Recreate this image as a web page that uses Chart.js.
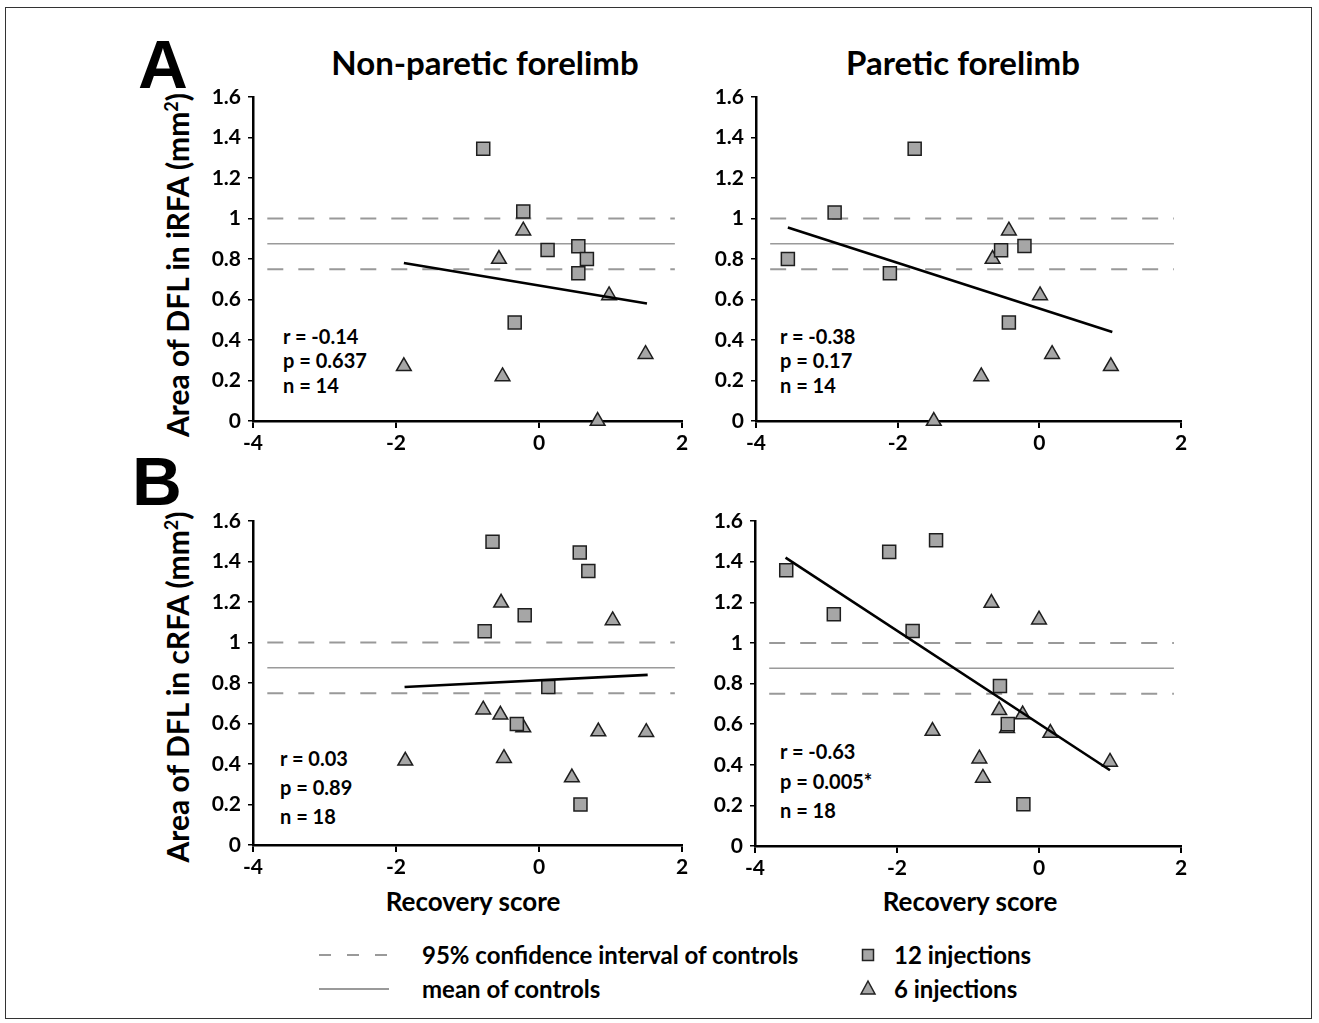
<!DOCTYPE html>
<html><head><meta charset="utf-8">
<script src="https://cdn.jsdelivr.net/npm/chart.js@4.4.1/dist/chart.umd.min.js"></script>
<style>
body{margin:0;background:#fff;}
#fig{position:relative;width:1319px;height:1023px;overflow:hidden;font-family:Lato,'Open Sans',sans-serif;color:#000;background:#fff;}
.abs{position:absolute;white-space:nowrap;line-height:1.1;}
canvas{position:absolute;}
.frame{position:absolute;left:5px;top:7px;width:1305px;height:1010px;border:1.5px solid #333;}
.letter{font-family:'Liberation Sans',Arial,sans-serif;font-weight:bold;font-size:69px;line-height:1;transform:translate(-50%,-50%);}
.title{font-weight:bold;font-size:33px;transform:translate(-50%,-50%);}
.ytitle{font-weight:bold;font-size:30px;transform:translate(-50%,-50%) rotate(-90deg);}
.stat{font-weight:bold;font-size:20px;transform:translateY(-50%);}
.xtitle{font-weight:bold;font-size:26px;transform:translate(-50%,-50%);}
.leg{font-weight:bold;font-size:24px;transform:translateY(-50%);}
sup{font-size:0.6em;vertical-align:0.6em;line-height:0;}
</style>
</head>
<body>
<div id="fig">
  <div class="frame"></div>
  <div class="abs letter" style="left:163px;top:64px;">A</div>
  <div class="abs letter" style="left:157px;top:481px;">B</div>
  <div class="abs title" style="left:485px;top:62px;">Non-paretic forelimb</div>
  <div class="abs title" style="left:963px;top:62px;">Paretic forelimb</div>
  <div class="abs ytitle" style="left:177px;top:265px;">Area of DFL in iRFA (mm<sup>2</sup>)</div>
  <div class="abs ytitle" style="left:177px;top:687px;">Area of DFL in cRFA (mm<sup>2</sup>)</div>
  <div class="abs xtitle" style="left:473px;top:901px;">Recovery score</div>
  <div class="abs xtitle" style="left:970px;top:901px;">Recovery score</div>

  <div class="abs stat" style="left:283px;top:336px;">r = -0.14</div>
  <div class="abs stat" style="left:283px;top:360px;">p = 0.637</div>
  <div class="abs stat" style="left:283px;top:385px;">n = 14</div>
  <div class="abs stat" style="left:780px;top:336px;">r = -0.38</div>
  <div class="abs stat" style="left:780px;top:360px;">p = 0.17</div>
  <div class="abs stat" style="left:780px;top:385px;">n = 14</div>
  <div class="abs stat" style="left:280px;top:758px;">r = 0.03</div>
  <div class="abs stat" style="left:280px;top:787px;">p = 0.89</div>
  <div class="abs stat" style="left:280px;top:816px;">n = 18</div>
  <div class="abs stat" style="left:780px;top:751px;">r = -0.63</div>
  <div class="abs stat" style="left:780px;top:781px;">p = 0.005*</div>
  <div class="abs stat" style="left:780px;top:810px;">n = 18</div>

  <svg class="abs" style="left:0;top:0;" width="1319" height="1023">
    <line x1="319" y1="955" x2="391" y2="955" stroke="#9a9a9a" stroke-width="2" stroke-dasharray="12 16"/>
    <line x1="319" y1="989" x2="389" y2="989" stroke="#9a9a9a" stroke-width="2"/>
    <rect x="862.5" y="949.5" width="11" height="11" fill="#a6a6a6" stroke="#222" stroke-width="1.5"/>
    <polygon points="868,981 875,994 861,994" fill="#a6a6a6" stroke="#222" stroke-width="1.5"/>
  </svg>
  <div class="abs leg" style="left:422px;top:955px;">95% confidence interval of controls</div>
  <div class="abs leg" style="left:422px;top:989px;">mean of controls</div>
  <div class="abs leg" style="left:894px;top:955px;">12 injections</div>
  <div class="abs leg" style="left:894px;top:989px;">6 injections</div>
</div>
<script>
// ---- tick labels ----
const xTickLabels = ['-4', '-2', '0', '2'];
const yTickLabels = ['0', '0.2', '0.4', '0.6', '0.8', '1', '1.2', '1.4', '1.6'];

// ---- control reference values ----
const ctrlMean = 0.875;
const ctrlCiLow = 0.75;
const ctrlCiHigh = 1.0;
const refLineX = [-3.8, 1.9];

// ---- A: iRFA, non-paretic forelimb ----
const aNonSqX = [-0.78, -0.22, 0.12, 0.55, 0.67, 0.55, -0.34];
const aNonSqY = [1.345, 1.035, 0.845, 0.863, 0.80, 0.73, 0.487];
const aNonTriX = [-0.22, -0.56, 0.98, -1.89, -0.51, 0.82, 1.49];
const aNonTriY = [0.94, 0.80, 0.62, 0.27, 0.22, 0.0, 0.33];
const aNonFitX = [-1.89, 1.51];
const aNonFitY = [0.78, 0.58];

// ---- A: iRFA, paretic forelimb ----
const aParSqX = [-3.55, -2.89, -1.76, -2.11, -0.54, -0.21, -0.43];
const aParSqY = [0.80, 1.03, 1.345, 0.73, 0.843, 0.864, 0.486];
const aParTriX = [-0.43, -0.66, 0.01, 0.18, 1.01, -0.82, -1.49];
const aParTriY = [0.94, 0.80, 0.62, 0.33, 0.27, 0.22, 0.0];
const aParFitX = [-3.55, 1.03];
const aParFitY = [0.955, 0.44];

// ---- B: cRFA, non-paretic forelimb ----
const bNonSqX = [-0.65, 0.57, 0.69, -0.20, -0.76, 0.13, -0.31, 0.58];
const bNonSqY = [1.498, 1.444, 1.353, 1.135, 1.056, 0.78, 0.597, 0.20];
const bNonTriX = [-0.53, 1.03, -0.78, -0.54, -0.22, 0.83, 1.50, -1.87, -0.49, 0.46];
const bNonTriY = [1.196, 1.109, 0.668, 0.643, 0.58, 0.56, 0.557, 0.416, 0.429, 0.333];
const bNonFitX = [-1.88, 1.52];
const bNonFitY = [0.78, 0.84];

// ---- B: cRFA, paretic forelimb ----
const bParSqX = [-3.56, -2.11, -1.45, -2.89, -1.78, -0.55, -0.44, -0.22];
const bParSqY = [1.357, 1.448, 1.505, 1.141, 1.059, 0.788, 0.60, 0.205];
const bParTriX = [-0.67, 0.0, -0.56, -0.23, 0.16, -1.50, -0.84, -0.79, 1.0, -0.45];
const bParTriY = [1.196, 1.114, 0.668, 0.647, 0.556, 0.566, 0.43, 0.335, 0.414, 0.58];
const bParFitX = [-3.57, 1.0];
const bParFitY = [1.42, 0.373];

const pts = (xs, ys) => xs.map((x, i) => ({ x: x, y: ys[i] }));

const panels = [
  { sqX: aNonSqX, sqY: aNonSqY, triX: aNonTriX, triY: aNonTriY, fitX: aNonFitX, fitY: aNonFitY,
    left: 150, top: 70, w: 550, h: 400, yW: 103, padR: 18, padT: 27, xH: 49 },
  { sqX: aParSqX, sqY: aParSqY, triX: aParTriX, triY: aParTriY, fitX: aParFitX, fitY: aParFitY,
    left: 700, top: 70, w: 550, h: 400, yW: 56, padR: 69, padT: 27, xH: 49 },
  { sqX: bNonSqX, sqY: bNonSqY, triX: bNonTriX, triY: bNonTriY, fitX: bNonFitX, fitY: bNonFitY,
    left: 150, top: 490, w: 550, h: 400, yW: 103, padR: 18, padT: 31, xH: 45 },
  { sqX: bParSqX, sqY: bParSqY, triX: bParTriX, triY: bParTriY, fitX: bParFitX, fitY: bParFitY,
    left: 700, top: 490, w: 550, h: 400, yW: 55, padR: 69, padT: 31, xH: 44 }
];

const tickFont = { family: 'Lato', weight: 'bold', size: 21 };
const fig = document.getElementById('fig');

panels.forEach(p => {
  const cv = document.createElement('canvas');
  cv.width = p.w; cv.height = p.h;
  cv.style.left = p.left + 'px'; cv.style.top = p.top + 'px';
  cv.style.width = p.w + 'px'; cv.style.height = p.h + 'px';
  fig.appendChild(cv);
  new Chart(cv, {
    type: 'scatter',
    data: {
      datasets: [
        { label: 'CI high', data: pts(refLineX, [ctrlCiHigh, ctrlCiHigh]), showLine: true,
          borderColor: '#999', borderWidth: 2, borderDash: [16, 15], pointRadius: 0, order: 6 },
        { label: 'CI low', data: pts(refLineX, [ctrlCiLow, ctrlCiLow]), showLine: true,
          borderColor: '#999', borderWidth: 2, borderDash: [16, 15], pointRadius: 0, order: 6 },
        { label: 'mean', data: pts(refLineX, [ctrlMean, ctrlMean]), showLine: true,
          borderColor: '#9a9a9a', borderWidth: 1.6, pointRadius: 0, order: 5 },
        { label: '6 injections', data: pts(p.triX, p.triY), pointStyle: 'triangle', pointRadius: 8.5,
          backgroundColor: '#a6a6a6', borderColor: '#1e1e1e', borderWidth: 1.5, clip: false, order: 3 },
        { label: '12 injections', data: pts(p.sqX, p.sqY), pointStyle: 'rect', pointRadius: 9.2,
          backgroundColor: '#a6a6a6', borderColor: '#1e1e1e', borderWidth: 1.5, clip: false, order: 2 },
        { label: 'fit', data: pts(p.fitX, p.fitY), showLine: true,
          borderColor: '#000', borderWidth: 2.6, pointRadius: 0, order: 1 }
      ]
    },
    options: {
      responsive: false, animation: false, events: [], devicePixelRatio: 1,
      layout: { padding: { top: p.padT, right: p.padR, left: 0, bottom: 0 } },
      plugins: { legend: { display: false }, tooltip: { enabled: false } },
      scales: {
        x: {
          type: 'linear', min: -4, max: 2,
          ticks: { stepSize: 2, color: '#000', font: tickFont, padding: 3,
                   callback: (v, i) => xTickLabels[i] },
          grid: { drawOnChartArea: false, drawTicks: true, tickLength: 7, color: '#000', lineWidth: 2 },
          border: { display: true, color: '#000', width: 2.5 },
          afterFit: s => { s.height = p.xH; }
        },
        y: {
          type: 'linear', min: 0, max: 1.6,
          ticks: { stepSize: 0.2, color: '#000', font: tickFont, padding: 7,
                   callback: (v, i) => yTickLabels[i] },
          grid: { drawOnChartArea: false, drawTicks: true, tickLength: 5, color: '#000', lineWidth: 1.5 },
          border: { display: true, color: '#000', width: 2.5 },
          afterFit: s => { s.width = p.yW; }
        }
      }
    }
  });
});
</script>
</body></html>
